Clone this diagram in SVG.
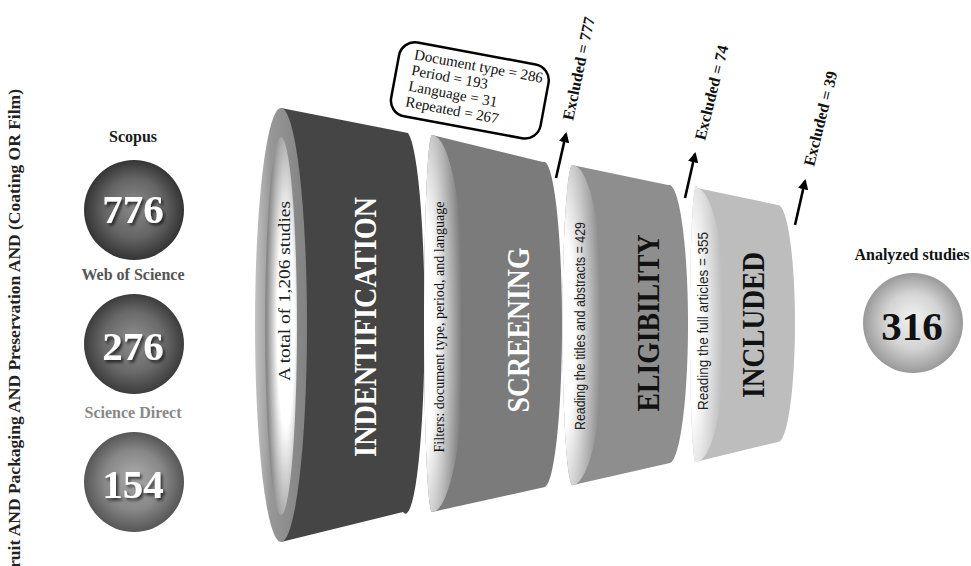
<svg xmlns="http://www.w3.org/2000/svg" width="971" height="566" viewBox="0 0 971 566">
<style>
.serif{font-family:"Liberation Serif","Times New Roman",serif}
.sans{font-family:"Liberation Sans",Arial,sans-serif}
.b{font-weight:bold}
.big{font-family:"Liberation Serif","Times New Roman",serif;font-weight:bold;font-size:32px;text-anchor:middle}
.num{font-family:"Liberation Serif","Times New Roman",serif;font-weight:bold;font-size:41px;text-anchor:middle}
.src{font-family:"Liberation Serif","Times New Roman",serif;font-weight:bold;font-size:16px;text-anchor:middle}
.exc{font-family:"Liberation Serif","Times New Roman",serif;font-weight:bold;font-size:16px;fill:#111}
.arrow{stroke:#000;stroke-width:2.6;fill:none;marker-end:url(#ah)}
</style>
<defs>
<marker id="ah" viewBox="0 0 10 10" refX="8" refY="5" markerWidth="4" markerHeight="4" orient="auto" markerUnits="strokeWidth">
<path d="M0,0 L10,5 L0,10 z" fill="#000"/>
</marker>
<filter id="sh" x="-20%" y="-20%" width="150%" height="150%">
<feDropShadow dx="2" dy="2.5" stdDeviation="1.6" flood-color="#000" flood-opacity="0.65"/>
</filter>
<radialGradient id="c1" cx="0.5" cy="0.5" r="0.5" fx="0.5" fy="0.45">
<stop offset="0" stop-color="#8a8a8a"/><stop offset="0.6" stop-color="#646464"/><stop offset="1" stop-color="#343434"/>
</radialGradient>
<radialGradient id="c2" cx="0.5" cy="0.5" r="0.5" fx="0.5" fy="0.45">
<stop offset="0" stop-color="#8e8e8e"/><stop offset="0.6" stop-color="#6a6a6a"/><stop offset="1" stop-color="#3c3c3c"/>
</radialGradient>
<radialGradient id="c3" cx="0.5" cy="0.5" r="0.5" fx="0.5" fy="0.45">
<stop offset="0" stop-color="#ababab"/><stop offset="0.6" stop-color="#878787"/><stop offset="1" stop-color="#565656"/>
</radialGradient>
<radialGradient id="c4" cx="0.5" cy="0.5" r="0.5" fx="0.5" fy="0.45">
<stop offset="0" stop-color="#f2f2f2"/><stop offset="0.55" stop-color="#d4d4d4"/><stop offset="1" stop-color="#999"/>
</radialGradient>
<linearGradient id="ring" x1="0" y1="0" x2="1" y2="0">
<stop offset="0" stop-color="#c2c2c2"/><stop offset="0.3" stop-color="#979797"/><stop offset="1" stop-color="#828282"/>
</linearGradient>
<radialGradient id="hole" cx="0.65" cy="0.5" r="0.6">
<stop offset="0" stop-color="#fff"/><stop offset="0.45" stop-color="#fff"/><stop offset="1" stop-color="#8a8a8a"/>
</radialGradient>
<radialGradient id="crS" cx="0" cy="0.52" r="1" fx="0" fy="0.52">
<stop offset="0" stop-color="#fff"/><stop offset="0.3" stop-color="#fff"/><stop offset="0.9" stop-color="#7b7b7b"/>
</radialGradient>
<radialGradient id="crE" cx="0" cy="0.52" r="1" fx="0" fy="0.52">
<stop offset="0" stop-color="#fff"/><stop offset="0.3" stop-color="#fff"/><stop offset="0.9" stop-color="#8e8e8e"/>
</radialGradient>
<radialGradient id="crI" cx="0" cy="0.52" r="1" fx="0" fy="0.52">
<stop offset="0" stop-color="#fff"/><stop offset="0.3" stop-color="#fff"/><stop offset="0.9" stop-color="#bdbdbd"/>
</radialGradient>
</defs>

<g id="query">
<text class="serif b" font-size="17.5" fill="#222" text-anchor="end" transform="translate(20,89) rotate(-90)">Fruit AND Packaging AND Preservation AND (Coating OR Film)</text>
</g>

<g id="scopus">
<text class="src" x="133" y="142" fill="#1a1a1a">Scopus</text>
<circle cx="134" cy="210" r="50" fill="url(#c1)"/>
<text class="num" x="133" y="223" fill="#fff" filter="url(#sh)">776</text>
</g>
<g id="wos">
<text class="src" x="133" y="280" fill="#555">Web of Science</text>
<circle cx="134" cy="344" r="50" fill="url(#c2)"/>
<text class="num" x="133" y="360" fill="#fff" filter="url(#sh)">276</text>
</g>
<g id="sciencedirect">
<text class="src" x="133" y="418" fill="#888">Science Direct</text>
<circle cx="134" cy="482" r="50" fill="url(#c3)"/>
<text class="num" x="133" y="498" fill="#fff" filter="url(#sh)">154</text>
</g>

<g id="identification">
<path d="M281,108 L408,133 A19 189.5 0 0 1 403,512 L281,542 Z" fill="#454545"/>
<ellipse cx="281" cy="325" rx="26" ry="217" fill="url(#ring)"/>
<ellipse cx="281" cy="326" rx="16" ry="189" fill="url(#hole)"/>
<text class="serif" font-size="17" fill="#222" text-anchor="middle" textLength="180" lengthAdjust="spacingAndGlyphs" transform="translate(290,291) rotate(-90)">A total of 1,206 studies</text>
<text class="big" fill="#fff" textLength="260" lengthAdjust="spacingAndGlyphs" transform="translate(376,327) rotate(-90)">INDENTIFICATION</text>
</g>

<g id="screening">
<path d="M432,135 L543,162 A18 162.5 0 0 1 545,487 L432,512 A8 188.5 0 0 1 432,135 Z" fill="#7b7b7b"/>
<path d="M432,135 A8 188.5 0 0 0 432,512 A34 188.5 0 0 0 432,135 Z" fill="url(#crS)"/>
<text class="serif" font-size="15" fill="#111" text-anchor="middle" textLength="251" lengthAdjust="spacingAndGlyphs" transform="translate(444,327) rotate(-90)">Filters: document type, period, and language</text>
<text class="big" fill="#fff" textLength="165" lengthAdjust="spacingAndGlyphs" transform="translate(529,330) rotate(-90)">SCREENING</text>
</g>

<g id="callout">
<g transform="rotate(10.5 465 89)">
<rect x="394" y="52" width="152" height="75" rx="16" fill="#fff" stroke="#000" stroke-width="2.5"/>
<text class="serif" font-size="15" fill="#111" x="409" y="69">Document type = 286</text>
<text class="serif" font-size="15" fill="#111" x="409" y="85">Period = 193</text>
<text class="serif" font-size="15" fill="#111" x="409" y="101">Language = 31</text>
<text class="serif" font-size="15" fill="#111" x="409" y="117">Repeated = 267</text>
</g>
</g>

<g id="eligibility">
<path d="M572,165 L668,185 A19 139 0 0 1 670,463 L573,485 A10 160 0 0 1 572,165 Z" fill="#8e8e8e"/>
<path d="M572,165 A10 160 0 0 0 573,485 A32 160 0 0 0 572,165 Z" fill="url(#crE)"/>
<text class="sans" font-size="14" fill="#222" text-anchor="middle" textLength="208" lengthAdjust="spacingAndGlyphs" transform="translate(585,326) rotate(-90)">Reading the titles and abstracts = 429</text>
<text class="big" fill="#111" textLength="177" lengthAdjust="spacingAndGlyphs" transform="translate(659,323) rotate(-90)">ELIGIBILITY</text>
</g>

<g id="included">
<path d="M697,188 L778,205 A17 118.5 0 0 1 778,442 L695,462 A6 137 0 0 1 697,188 Z" fill="#bdbdbd"/>
<path d="M697,188 A6 137 0 0 0 695,462 A30 137 0 0 0 697,188 Z" fill="url(#crI)"/>
<text class="sans" font-size="14" fill="#222" text-anchor="middle" textLength="178" lengthAdjust="spacingAndGlyphs" transform="translate(708,321) rotate(-90)">Reading the full articles = 355</text>
<text class="big" fill="#111" textLength="146" lengthAdjust="spacingAndGlyphs" transform="translate(764,325) rotate(-90)">INCLUDED</text>
</g>

<g id="analyzed">
<text class="src" x="912" y="260" fill="#111">Analyzed studies</text>
<circle cx="913" cy="323" r="50" fill="url(#c4)"/>
<text class="num" x="912" y="340" fill="#111">316</text>
</g>

<g id="connectors">
<line class="arrow" x1="556" y1="178" x2="566" y2="134"/>
<line class="arrow" x1="685" y1="198" x2="695" y2="154"/>
<line class="arrow" x1="795" y1="225" x2="805" y2="181"/>
<text class="exc" transform="translate(573,121) rotate(-78)">Excluded = 777</text>
<text class="exc" transform="translate(705,141) rotate(-76)">Excluded = 74</text>
<text class="exc" transform="translate(814,167) rotate(-76)">Excluded = 39</text>
</g>
</svg>
